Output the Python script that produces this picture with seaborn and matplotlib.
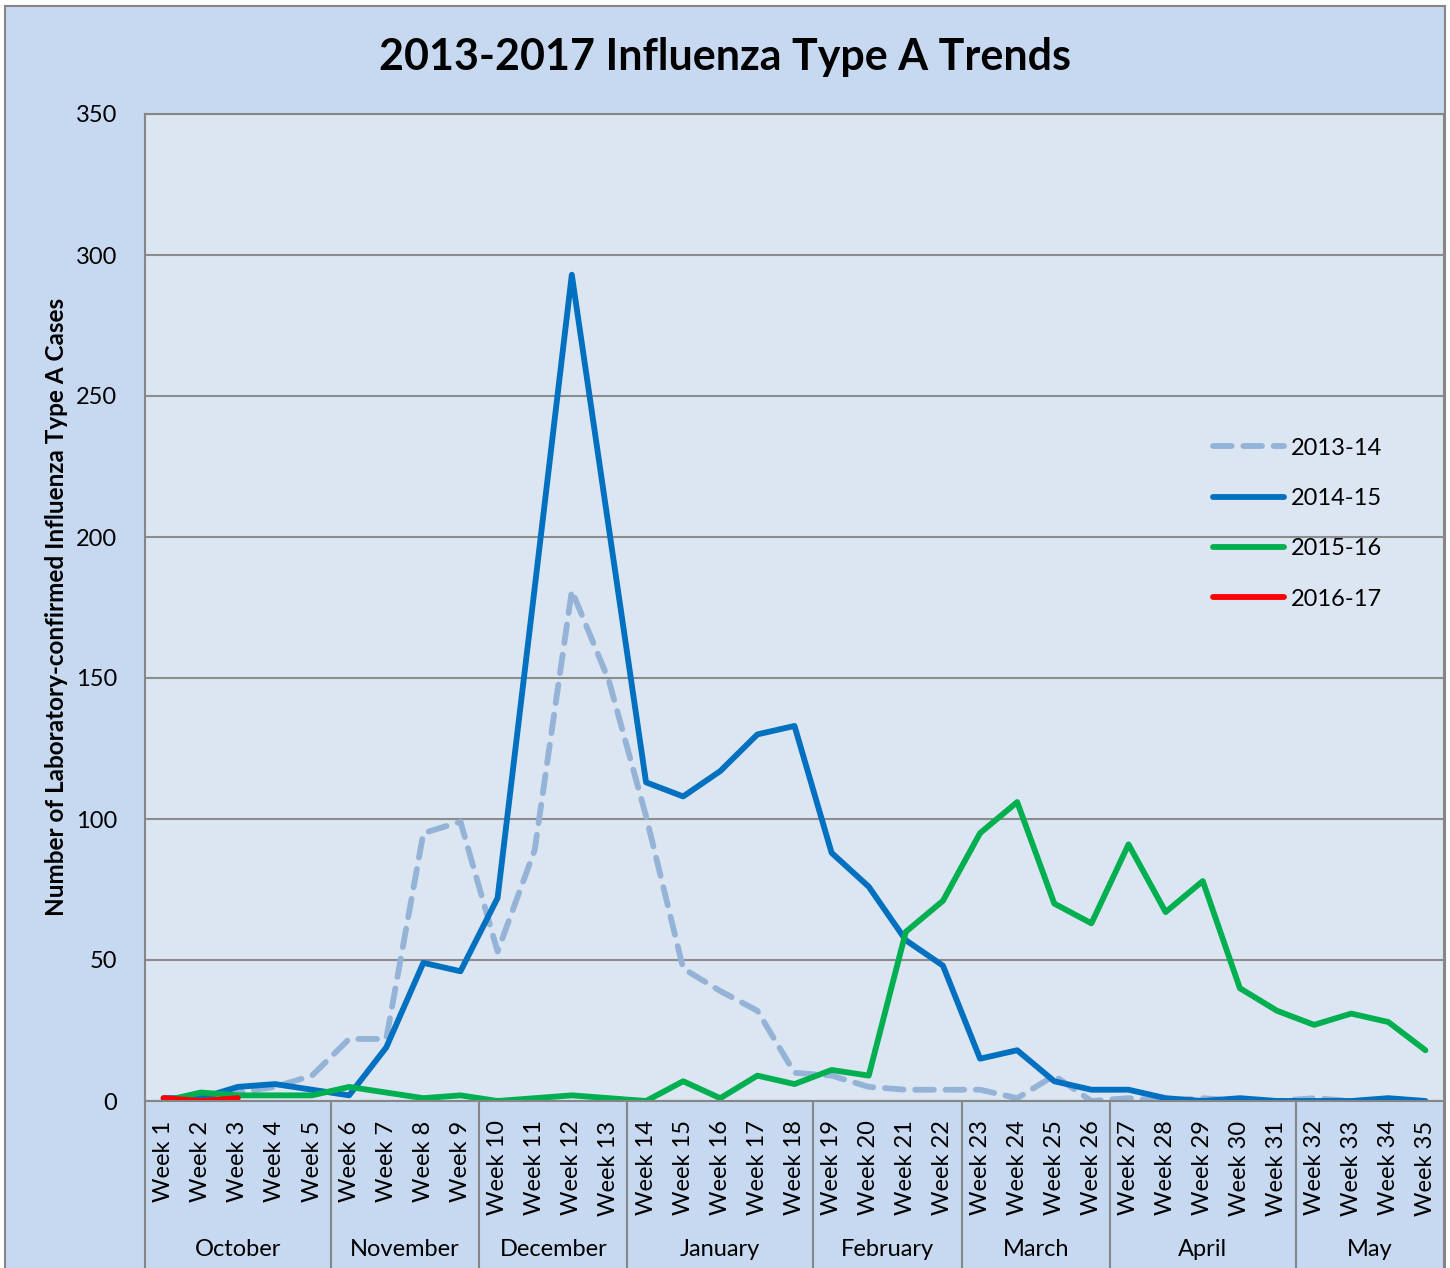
import numpy as np
import pandas as pd
import matplotlib.pyplot as plt
import matplotlib.transforms as mtransforms
from matplotlib.patches import Rectangle
import seaborn as sns

sns.set_style('white')
plt.rcParams['font.family'] = ['Lato', 'DejaVu Sans']
plt.rcParams['lines.solid_joinstyle'] = 'round'
plt.rcParams['lines.dash_capstyle'] = 'round'
plt.rcParams['lines.solid_capstyle'] = 'round'
plt.rcParams['text.color'] = 'black'
plt.rcParams['xtick.color'] = 'black'
plt.rcParams['ytick.color'] = 'black'

# weeks and months
weeks = ['Week %d' % i for i in range(1, 36)]
months = ['October', 'November', 'December', 'January', 'February', 'March', 'April', 'May']
month_weeks = [5, 4, 4, 5, 4, 4, 5, 4]

# cases per season
s2013 = [1, 1, 3, 5, 9, 22, 22, 95, 99, 53, 89, 181, 149, 101, 47, 39, 32, 10, 9, 5,
         4, 4, 4, 1, 9, 0, 1, 0, 1, 0, 0, 1, 0, 0, 0]
s2014 = [1, 1, 5, 6, 4, 2, 19, 49, 46, 72, 182, 293, 203, 113, 108, 117, 130, 133, 88, 76,
         57, 48, 15, 18, 7, 4, 4, 1, 0, 1, 0, 0, 0, 1, 0]
s2015 = [0, 3, 2, 2, 2, 5, 3, 1, 2, 0, 1, 2, 1, 0, 7, 1, 9, 6, 11, 9,
         60, 71, 95, 106, 70, 63, 91, 67, 78, 40, 32, 27, 31, 28, 18]
s2016 = [1, 0, 1]

seasons = ['2013-14', '2014-15', '2015-16', '2016-17']
colors = ['#95B3D7', '#0070C0', '#00B050', '#FF0000']

rows = []
for name, vals in zip(seasons, [s2013, s2014, s2015, s2016]):
    for i, v in enumerate(vals):
        rows.append({'week': i + 1, 'season': name, 'cases': v})
df = pd.DataFrame(rows)

W, H = 1450, 1268
fig = plt.figure(figsize=(W / 100, H / 100), dpi=100, facecolor='white')
fig.patches.append(Rectangle((5 / W, -0.01), 1440 / W, 1 - 6 / H + 0.01,
                             transform=fig.transFigure, facecolor='#C6D9F1',
                             edgecolor='#868686', lw=1.5, zorder=-10))

ax = fig.add_axes([145 / W, 1 - 1101 / H, 1299 / W, 987 / H])
ax.set_facecolor('#DCE6F2')

sns.lineplot(data=df, x='week', y='cases', hue='season', style='season',
             palette=dict(zip(seasons, colors)),
             dashes={'2013-14': (3.2, 2.0), '2014-15': '', '2015-16': '', '2016-17': ''},
             ax=ax)
lw = 4.2
for ln in ax.lines:
    ln.set_linewidth(lw)

ax.set_xlim(0.5, 35.5)
ax.set_ylim(0, 350)
ax.set_yticks(range(0, 351, 50))
ax.yaxis.grid(True, color='#8C8C8C', lw=1.5)
ax.set_axisbelow(True)
ax.set_xticks(range(1, 36))
ax.set_xticklabels(weeks, rotation=90)
ax.tick_params(axis='x', length=0, pad=14, labelsize=17)
ax.tick_params(axis='y', length=0, pad=20, labelsize=17)
ax.set_xlabel('')
ax.set_ylabel('')
for sp in ax.spines.values():
    sp.set_color('#868686')
    sp.set_linewidth(1.5)

# month separators and labels under the week labels
trans = mtransforms.blended_transform_factory(ax.transData, ax.transAxes)
bottom = -(H - 1101) / 987 - 0.01
edges = np.concatenate([[0], np.cumsum(month_weeks)]) + 0.5
for e in edges:
    ax.plot([e, e], [0, bottom], transform=trans, clip_on=False, color='#868686', lw=1.5)
for m, a, b in zip(months, edges[:-1], edges[1:]):
    ax.text((a + b) / 2, -(1250 - 1101) / 987, m, transform=trans,
            ha='center', va='center', fontsize=17)

handles, labels = ax.get_legend_handles_labels()
for h in handles:
    h.set_linewidth(lw)
ax.legend(handles, labels, loc='upper left', bbox_to_anchor=(0.822, 0.672),
          frameon=False, fontsize=17, handlelength=3.0, handletextpad=0.3,
          labelspacing=1.24, borderpad=0, borderaxespad=0)

fig.text(725 / W, 1 - 57 / H, '2013-2017 Influenza Type A Trends',
         ha='center', va='center', fontsize=31, fontweight='bold')
fig.text(57 / W, 1 - 607 / H, 'Number of Laboratory-confirmed Influenza Type A Cases',
         ha='center', va='center', rotation=90, fontsize=17.5, fontweight='bold')

fig.savefig('out.png', dpi=100, facecolor=fig.get_facecolor())
